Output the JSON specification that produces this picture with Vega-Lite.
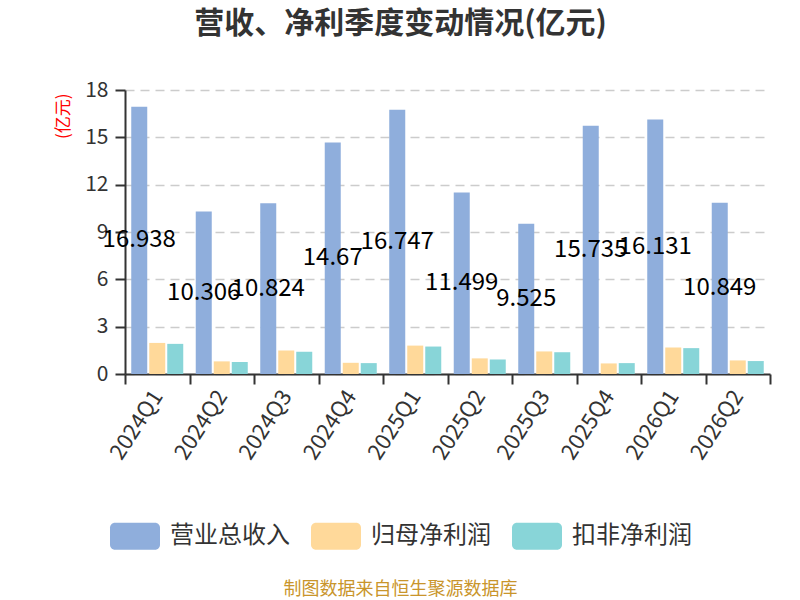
{
  "$schema": "https://vega.github.io/schema/vega-lite/v6.json",
  "width": 645,
  "height": 284,
  "autosize": "none",
  "padding": {"left": 125, "top": 90, "right": 30, "bottom": 226},
  "background": "white",
  "config": {"view": {"stroke": null}, "font": "Noto Sans CJK SC"},
  "title": {"text": "营收、净利季度变动情况(亿元)", "fontSize": 30, "fontWeight": "bold", "color": "#333333", "anchor": "middle", "frame": "group", "dx": -47, "offset": 40},
  "data": {"values": [
    {"quarter": "2024Q1", "series": "营业总收入", "value": 16.938},
    {"quarter": "2024Q1", "series": "归母净利润", "value": 1.97},
    {"quarter": "2024Q1", "series": "扣非净利润", "value": 1.91},
    {"quarter": "2024Q2", "series": "营业总收入", "value": 10.306},
    {"quarter": "2024Q2", "series": "归母净利润", "value": 0.80},
    {"quarter": "2024Q2", "series": "扣非净利润", "value": 0.76},
    {"quarter": "2024Q3", "series": "营业总收入", "value": 10.824},
    {"quarter": "2024Q3", "series": "归母净利润", "value": 1.49},
    {"quarter": "2024Q3", "series": "扣非净利润", "value": 1.41},
    {"quarter": "2024Q4", "series": "营业总收入", "value": 14.67},
    {"quarter": "2024Q4", "series": "归母净利润", "value": 0.71},
    {"quarter": "2024Q4", "series": "扣非净利润", "value": 0.69},
    {"quarter": "2025Q1", "series": "营业总收入", "value": 16.747},
    {"quarter": "2025Q1", "series": "归母净利润", "value": 1.80},
    {"quarter": "2025Q1", "series": "扣非净利润", "value": 1.74},
    {"quarter": "2025Q2", "series": "营业总收入", "value": 11.499},
    {"quarter": "2025Q2", "series": "归母净利润", "value": 0.99},
    {"quarter": "2025Q2", "series": "扣非净利润", "value": 0.92},
    {"quarter": "2025Q3", "series": "营业总收入", "value": 9.525},
    {"quarter": "2025Q3", "series": "归母净利润", "value": 1.43},
    {"quarter": "2025Q3", "series": "扣非净利润", "value": 1.38},
    {"quarter": "2025Q4", "series": "营业总收入", "value": 15.735},
    {"quarter": "2025Q4", "series": "归母净利润", "value": 0.67},
    {"quarter": "2025Q4", "series": "扣非净利润", "value": 0.69},
    {"quarter": "2026Q1", "series": "营业总收入", "value": 16.131},
    {"quarter": "2026Q1", "series": "归母净利润", "value": 1.68},
    {"quarter": "2026Q1", "series": "扣非净利润", "value": 1.64},
    {"quarter": "2026Q2", "series": "营业总收入", "value": 10.849},
    {"quarter": "2026Q2", "series": "归母净利润", "value": 0.86},
    {"quarter": "2026Q2", "series": "扣非净利润", "value": 0.82}
  ]},
  "layer": [
    {
      "mark": {"type": "bar"},
      "encoding": {
        "x": {
          "field": "quarter", "type": "nominal", "sort": null, "title": "制图数据来自恒生聚源数据库",
          "scale": {"paddingInner": 0, "paddingOuter": 0},
          "axis": {
            "labelAngle": -57, "labelAlign": "right", "labelBaseline": "middle", "labelFontSize": 22, "labelColor": "#333333", "labelPadding": 8,
            "tickBand": "extent", "tickSize": 10, "tickColor": "#333333", "tickWidth": 2,
            "domainColor": "#333333", "domainWidth": 2, "grid": false,
            "titleFontSize": 18, "titleColor": "#C9952B", "titleFontWeight": "normal", "titleX": 275, "titleY": 215, "titleAlign": "center", "titleBaseline": "middle"
          }
        },
        "xOffset": {"field": "series", "type": "nominal", "sort": ["营业总收入", "归母净利润", "扣非净利润"], "scale": {"paddingInner": 0.111, "paddingOuter": 0.347}},
        "y": {
          "field": "value", "type": "quantitative", "title": "(亿元)",
          "scale": {"domain": [0, 18]},
          "axis": {
            "values": [0, 3, 6, 9, 12, 15, 18], "labelFontSize": 21, "labelColor": "#333333", "labelPadding": 7,
            "tickSize": 10, "tickColor": "#333333", "tickWidth": 2, "domainColor": "#333333", "domainWidth": 2,
            "gridDash": [9, 6], "gridColor": "#cccccc", "gridWidth": 1.5,
            "titleColor": "red", "titleFontSize": 17, "titleFontWeight": "normal", "titleAngle": -90, "titleAlign": "right", "titleBaseline": "middle", "titleX": -62, "titleY": 3
          }
        },
        "color": {
          "field": "series", "type": "nominal",
          "scale": {"domain": ["营业总收入", "归母净利润", "扣非净利润"], "range": ["#8FAEDC", "#FFD99A", "#88D5D8"]},
          "legend": {
            "orient": "none", "legendX": -15, "legendY": 421, "direction": "horizontal", "title": null,
            "symbolType": "M-0.8,-0.54H0.8A0.2,0.2 0 0 1 1,-0.34V0.34A0.2,0.2 0 0 1 0.8,0.54H-0.8A0.2,0.2 0 0 1 -1,0.34V-0.34A0.2,0.2 0 0 1 -0.8,-0.54Z",
            "symbolSize": 2500, "symbolStrokeWidth": 0, "symbolOpacity": 1,
            "labelFontSize": 24, "labelColor": "#333333", "labelOffset": 10, "columnPadding": 21
          }
        }
      }
    },
    {
      "transform": [{"filter": "datum.series === '营业总收入'"}],
      "mark": {"type": "text", "fontSize": 24, "color": "#000000", "baseline": "middle", "align": "center"},
      "encoding": {
        "x": {"field": "quarter", "type": "nominal", "sort": null, "title": "制图数据来自恒生聚源数据库"},
        "xOffset": {"field": "series", "type": "nominal", "sort": ["营业总收入", "归母净利润", "扣非净利润"]},
        "y": {"field": "value", "type": "quantitative", "scale": {"domain": [0, 36]}, "axis": null},
        "text": {"field": "value", "type": "nominal"}
      }
    }
  ],
  "resolve": {"scale": {"y": "independent"}}
}
